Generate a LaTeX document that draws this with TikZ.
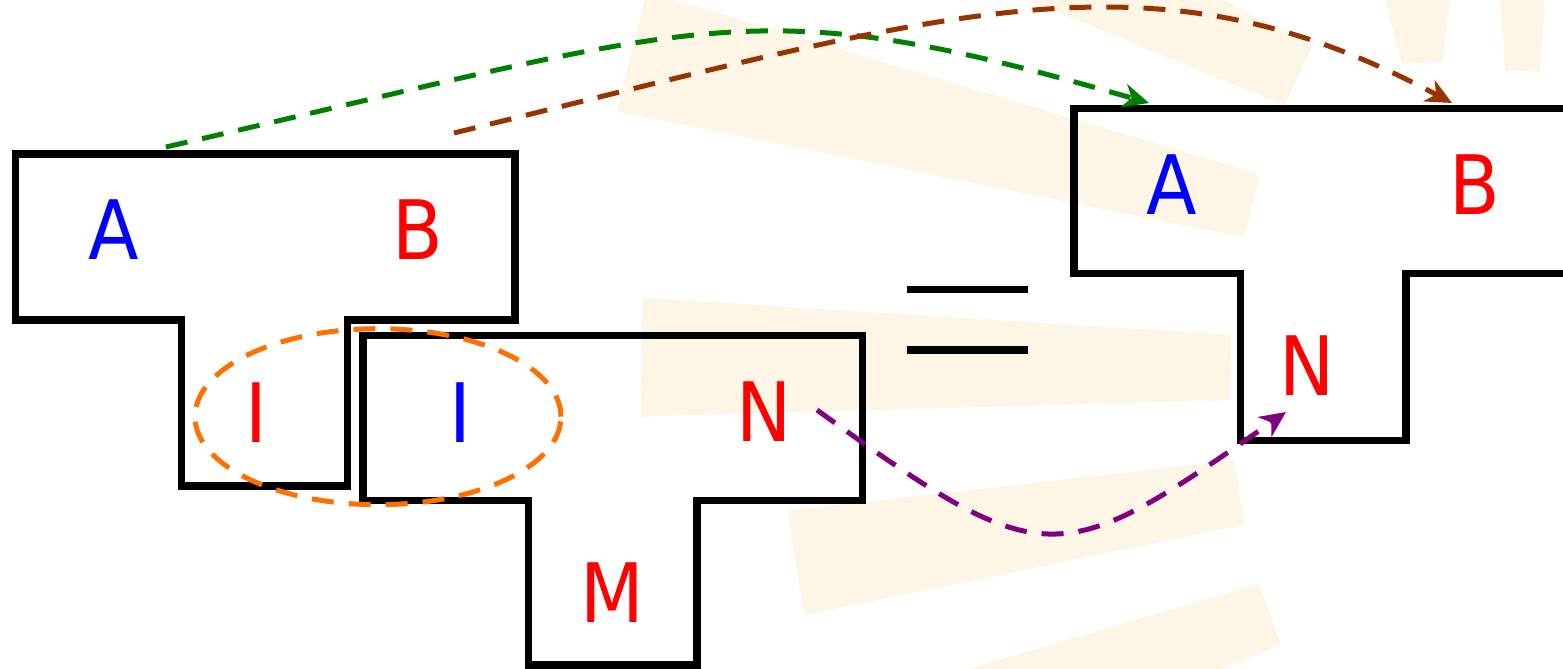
\documentclass[tikz,border=0pt]{standalone}
\usepackage{fontspec}
\setmainfont{DejaVu Sans}[FakeStretch=0.9]
\usetikzlibrary{arrows.meta,calc}
\definecolor{cgreen}{RGB}{0,128,0}
\definecolor{cbrown}{RGB}{153,51,0}
\definecolor{cpurple}{RGB}{128,0,128}
\definecolor{corange}{RGB}{255,112,0}
\definecolor{cray}{RGB}{253,245,230}
\begin{document}
\begin{tikzpicture}[x=0.5pt,y=-0.5pt,
  outline/.style={draw=black,line width=3.6pt,line join=miter},
  lbl/.style={inner sep=0pt,font=\fontsize{41}{41}\selectfont},
  dashline/.style={line width=2.5pt,dash pattern=on 11pt off 7.5pt},
  conn/.style={dashline,-{Stealth[length=13pt,width=12pt,inset=4pt]}},
  ray/.style={fill=cray}]
\useasboundingbox (0,0) rectangle (1563,669);
% faint background rays
\coordinate (C) at (1950,380);
\foreach \a/\r in {161/1300,171/1170,181/1310,194/1360,205/1300}{
  \fill[ray] ($(C)+(\a-2.6:720)$) -- ($(C)+(\a-2.6:\r)$) -- ($(C)+(\a+2.6:\r)$) -- ($(C)+(\a+2.6:720)$) -- cycle;
}
\fill[ray] (1500,0) -- (1545,0) -- (1540,72) -- (1505,70) -- cycle;
\fill[ray] (1385,0) -- (1450,0) -- (1442,62) -- (1402,64) -- cycle;
% shapes
\draw[outline] (15.8,154) -- (515,154) -- (515,320) -- (347.6,320) -- (347.6,486) -- (181.6,486) -- (181.6,320) -- (15.8,320) -- cycle;
\draw[outline] (363,335.6) -- (862.5,335.6) -- (862.5,500.5) -- (697,500.5) -- (697,665) -- (528.6,665) -- (528.6,500.5) -- (363,500.5) -- cycle;
\draw[outline] (1580,108.3) -- (1074,108.3) -- (1074,273.6) -- (1240.4,273.6) -- (1240.4,440.7) -- (1406,440.7) -- (1406,273.6) -- (1580,273.6);
% equals sign
\draw[outline] (907,289.5) -- (1028,289.5);
\draw[outline] (907,350) -- (1028,350);
% labels
\node[lbl,text=blue] (A1) at (113.5,230) {A};
\node[lbl,text=red] (B1) at (418,230) {B};
\node[lbl,text=red] (I1) at (256.6,412.6) {I};
\node[lbl,text=blue] (I2) at (460.7,412.6) {I};
\node[lbl,text=red] (N1) at (764,412) {N};
\node[lbl,text=red] (M1) at (612,593) {M};
\node[lbl,text=blue] (A2) at (1171.5,185) {A};
\node[lbl,text=red] (B2) at (1475,185) {B};
\node[lbl,text=red] (N2) at (1307.5,366) {N};
% ellipse
\draw[corange,dashline] (378,416.7) ellipse [x radius=91.5pt,y radius=44pt];
% connectors
\coordinate (gS) at (166,147);
\coordinate (gE) at (1149,103);
\coordinate (bS) at (454,133);
\coordinate (bE) at (1452,103);
\coordinate (pS) at (817,410);
\coordinate (pE) at (1286,412);
\draw[conn,cgreen] (gS) .. controls (716,20.5) and (748,-13) .. (gE);
\draw[conn,cbrown] (bS) .. controls (954,10.5) and (1151,-58) .. (bE);
\draw[conn,cpurple] (pS) .. controls (1046,575) and (1057,572) .. (pE);
\end{tikzpicture}
\end{document}
